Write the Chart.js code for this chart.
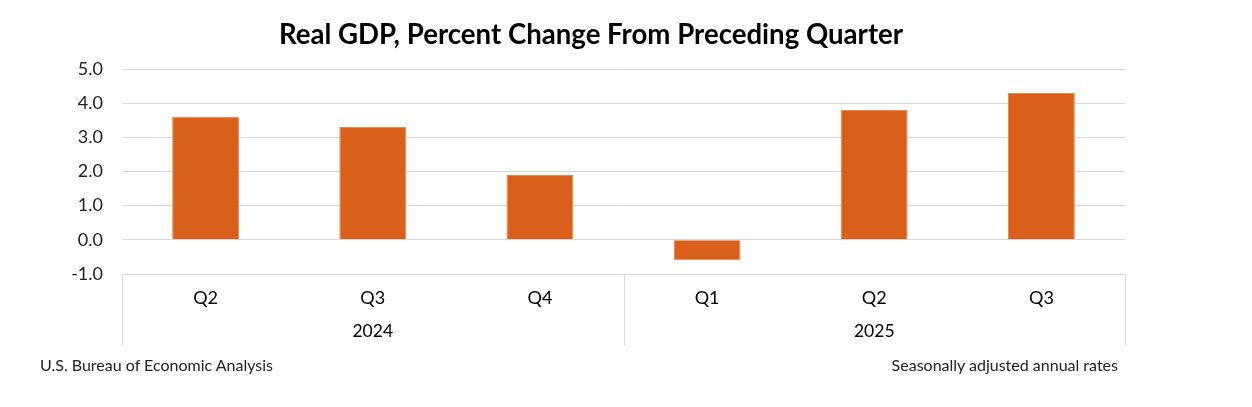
<!DOCTYPE html>
<html>
<head>
<meta charset="utf-8">
<script src="https://cdn.jsdelivr.net/npm/chart.js@4"></script>
<style>
  html, body { margin: 0; padding: 0; background: #fff; }
  #wrap { position: relative; width: 1252px; height: 407px; font-family: "Lato", "Open Sans", sans-serif; color: #000; }
  #title { position: absolute; left: 0; width: 1182px; top: 17px; text-align: center; font-size: 27.6px; font-weight: bold; }
  .note { position: absolute; top: 355px; font-size: 16px; color: #222; }
  #src { left: 40px; }
  #rates { right: 134px; }
  canvas { position: absolute; left: 0; top: 0; }
</style>
</head>
<body>
<div id="wrap">
  <canvas id="gdpChart" width="1252" height="407"></canvas>
  <div id="title">Real GDP, Percent Change From Preceding Quarter</div>
  <div class="note" id="src">U.S. Bureau of Economic Analysis</div>
  <div class="note" id="rates">Seasonally adjusted annual rates</div>
</div>
<script>
// quarterly data
const quarters = ["Q2", "Q3", "Q4", "Q1", "Q2", "Q3"];
const yearLabels = ["", "2024", "", "", "2025", ""];
const gdpChange = [3.6, 3.3, 1.9, -0.6, 3.8, 4.3];
const yMin = -1;
const yMax = 5;

const lineColor = "#d9d9d9";

// vertical lines of the category box under the plot
const boxLines = {
  id: "boxLines",
  afterDraw(chart) {
    const x = chart.scales.x;
    const x2 = chart.scales.x2;
    const ctx = chart.ctx;
    const mid = (x.getPixelForValue(2) + x.getPixelForValue(3)) / 2;
    ctx.save();
    ctx.strokeStyle = lineColor;
    ctx.lineWidth = 1;
    [x.left, mid, x.right].forEach(px => {
      const p = Math.round(px) + 0.5;
      ctx.beginPath();
      ctx.moveTo(p, chart.chartArea.bottom);
      ctx.lineTo(p, x2.bottom);
      ctx.stroke();
    });
    ctx.restore();
  }
};

const ctx = document.getElementById("gdpChart");

new Chart(ctx, {
  type: "bar",
  data: {
    labels: quarters,
    datasets: [
      {
        data: gdpChange,
        backgroundColor: "#d9601a",
        borderColor: "#e58a55",
        borderWidth: 1,
        barPercentage: 0.4,
        categoryPercentage: 1.0,
      },
    ],
  },
  options: {
    responsive: false,
    animation: false,
    layout: { padding: { left: 0, right: 127, top: 69, bottom: 62 } },
    plugins: { legend: { display: false }, tooltip: { enabled: false } },
    scales: {
      y: {
        min: yMin,
        max: yMax,
        ticks: {
          stepSize: 1,
          padding: 19,
          color: "#222",
          font: { family: "Lato", size: 18 },
          callback: v => Number(v).toFixed(1),
        },
        grid: { color: lineColor, drawTicks: false },
        border: { display: false },
        afterFit: s => { s.width = 122; },
      },
      x: {
        ticks: { color: "#000", font: { family: "Lato", size: 18 }, padding: 5 },
        grid: { display: false },
        border: { display: false },
        afterFit: s => { s.height = 35; },
      },
      x2: {
        type: "category",
        labels: yearLabels,
        position: "bottom",
        ticks: { color: "#000", font: { family: "Lato", size: 17.5 }, padding: 4, autoSkip: false, maxRotation: 0 },
        grid: { display: false },
        border: { display: false },
        afterFit: s => { s.height = 36; },
      },
    },
  },
  plugins: [boxLines],
});
</script>
</body>
</html>
